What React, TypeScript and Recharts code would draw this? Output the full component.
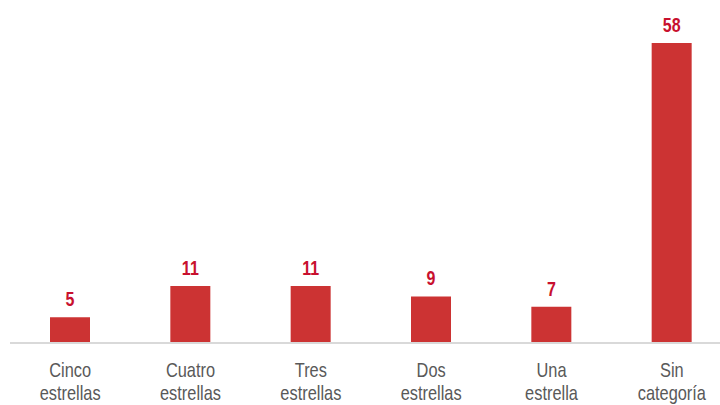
import { Bar, BarChart, LabelList, XAxis, YAxis } from 'recharts'

const CATEGORIES = [
  ['Cinco', 'estrellas'],
  ['Cuatro', 'estrellas'],
  ['Tres', 'estrellas'],
  ['Dos', 'estrellas'],
  ['Una', 'estrella'],
  ['Sin', 'categoría'],
]
const VALUES = [5, 11, 11, 9, 7, 58]

const data = CATEGORIES.map((lines, i) => ({ name: lines.join('\n'), value: VALUES[i] }))

const FONT = "'Liberation Sans', Arial, sans-serif"

function CategoryTick({ x, y, payload }: any) {
  const lines = String(payload.value).split('\n')
  return (
    <g transform={`translate(${x},${y}) scale(0.82,1)`}>
      <text x={0} y={0} textAnchor="middle" fill="#595959" fontFamily={FONT} fontSize={20}>
        {lines.map((line, i) => (
          <tspan key={i} x={0} dy={i === 0 ? 26 : 23}>
            {line}
          </tspan>
        ))}
      </text>
    </g>
  )
}

function ValueLabel({ x, y, width, value }: any) {
  return (
    <g transform={`translate(${x + width / 2},${y - 11}) scale(0.8,1)`}>
      <text
        x={0}
        y={0}
        textAnchor="middle"
        fill="#c8102e"
        fontFamily={FONT}
        fontWeight="bold"
        fontSize={20}
      >
        {value}
      </text>
    </g>
  )
}

export default function App() {
  return (
    <div
      style={{
        position: 'fixed',
        top: 0,
        left: 0,
        width: 720,
        height: 405,
        overflow: 'hidden',
        background: '#fff',
      }}
    >
      <BarChart
        width={740}
        height={405}
        data={data}
        margin={{ top: 43, right: 8, left: 10, bottom: 0 }}
        barCategoryGap={0}
      >
        <XAxis
          dataKey="name"
          interval={0}
          tickLine={false}
          axisLine={{ stroke: '#d9d9d9', strokeWidth: 2 }}
          tick={<CategoryTick />}
          height={62}
        />
        <YAxis hide domain={[0, 58]} />
        <Bar dataKey="value" fill="#cc3333" barSize={40} isAnimationActive={false}>
          <LabelList dataKey="value" content={<ValueLabel />} />
        </Bar>
      </BarChart>
    </div>
  )
}
